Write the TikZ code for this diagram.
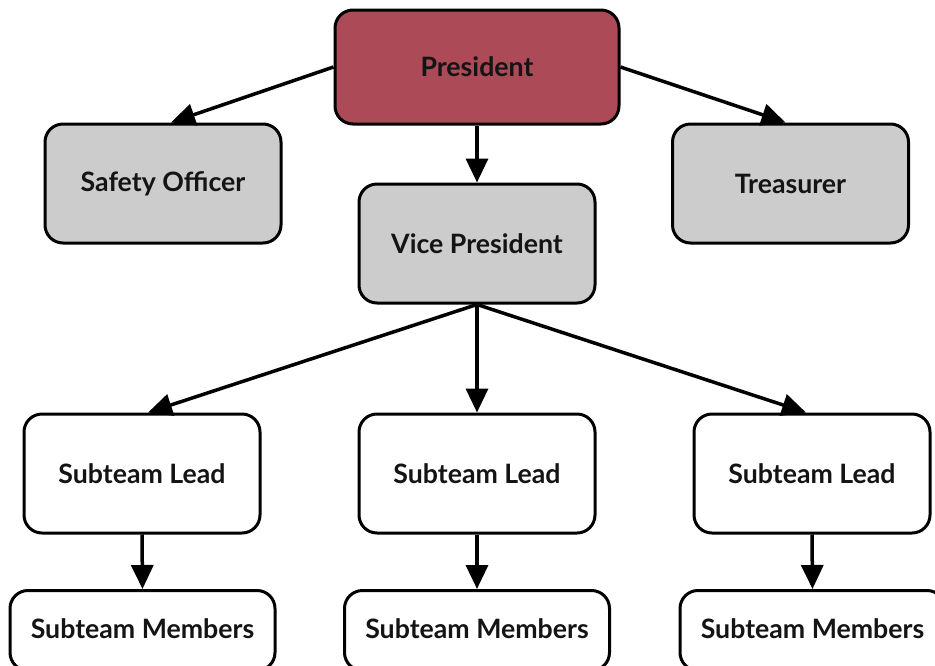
\documentclass[tikz,border=0pt]{standalone}
\usepackage{fontspec}
\setmainfont{Lato}
\usetikzlibrary{arrows.meta}
\definecolor{pres}{HTML}{AD4A58}
\definecolor{grayfill}{HTML}{CCCCCC}
\begin{document}
\begin{tikzpicture}[x=1pt,y=-1pt,
  lbl/.style={font=\fontsize{26.7}{30}\selectfont\bfseries, text=black!92},
  box/.style={draw=black, line width=3pt, rounded corners=18pt, minimum width=236pt, minimum height=119pt, lbl, inner sep=0pt},
  conn/.style={line width=3.5pt, -{Triangle[length=24pt,width=22pt]}}]
\clip (0,0) rectangle (935,665);
\fill[white] (0,0) rectangle (935,665);
\node[box, fill=pres, minimum width=284pt, minimum height=114pt] (pres) at (477,67) {President};
\node[box, fill=grayfill] (so) at (163,183.5) {\raisebox{-1.5pt}{Safety Officer}};
\node[box, fill=grayfill] (tr) at (790.5,183.5) {\raisebox{-1.5pt}{Treasurer}};
\node[box, fill=grayfill] (vp) at (477,243.5) {Vice President};
\node[box, fill=white] (sl1) at (142,473.5) {Subteam Lead};
\node[box, fill=white] (sl2) at (477,473.5) {Subteam Lead};
\node[box, fill=white] (sl3) at (812,473.5) {Subteam Lead};
\node[box, fill=white, minimum width=265pt, minimum height=80pt, anchor=north] (sm1) at (142.5,589) {};
\node[box, fill=white, minimum width=265pt, minimum height=80pt, anchor=north] (sm2) at (477,589) {};
\node[box, fill=white, minimum width=265pt, minimum height=80pt, anchor=north] (sm3) at (812.5,589) {};
\node[lbl] (t1) at (142.5,629) {Subteam Members};
\node[lbl] (t2) at (477,629) {Subteam Members};
\node[lbl] (t3) at (812.5,629) {Subteam Members};
\draw[conn] (pres.west) -- ([xshift=8pt]so.north);
\draw[conn] (pres.east) -- ([xshift=-5pt]tr.north);
\draw[conn] (pres.south) -- (vp.north);
\draw[conn] (vp.south) -- ([xshift=6pt]sl1.north);
\draw[conn] (vp.south) -- (sl2.north);
\draw[conn] (vp.south) -- ([xshift=-6pt]sl3.north);
\draw[conn] (sl1.south) -- (sm1.north);
\draw[conn] (sl2.south) -- (sm2.north);
\draw[conn] (sl3.south) -- (sm3.north);
\end{tikzpicture}
\end{document}
